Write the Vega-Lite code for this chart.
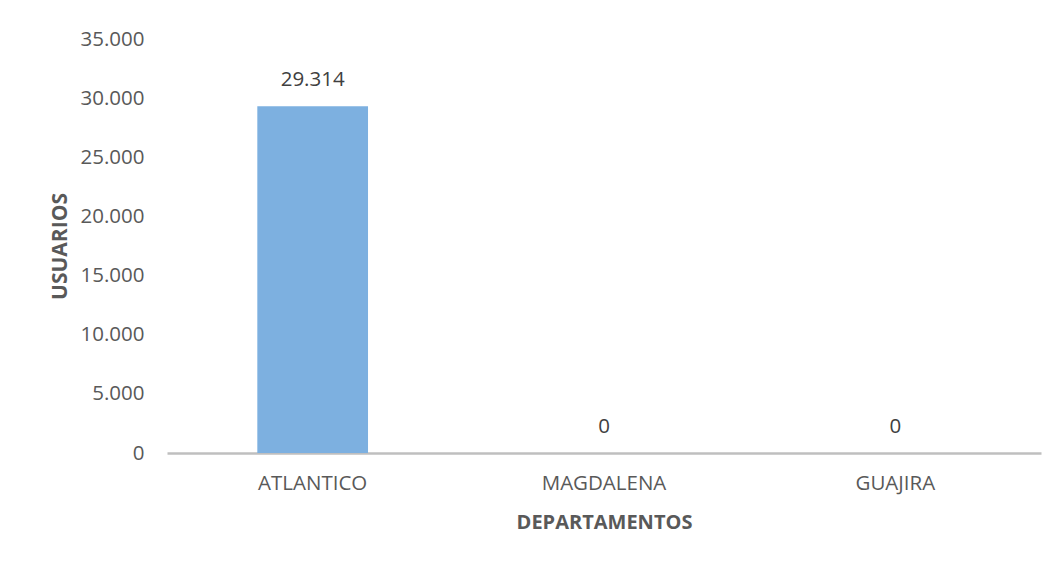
{
  "$schema": "https://vega.github.io/schema/vega-lite/v6.json",
  "width": 874,
  "height": 414,
  "autosize": {"type": "none"},
  "padding": {"left": 167, "top": 39, "right": 17, "bottom": 108},
  "background": "white",
  "config": {
    "view": {"stroke": null},
    "font": "Open Sans",
    "locale": {"number": {"decimal": ",", "thousands": ".", "grouping": [3], "currency": ["$", ""]}}
  },
  "data": {
    "values": [
      {"departamento": "ATLANTICO", "usuarios": 29314},
      {"departamento": "MAGDALENA", "usuarios": 0},
      {"departamento": "GUAJIRA", "usuarios": 0}
    ]
  },
  "encoding": {
    "x": {
      "field": "departamento",
      "type": "nominal",
      "sort": null,
      "scale": {"paddingInner": 0.62, "paddingOuter": 0.31},
      "axis": {
        "title": "DEPARTAMENTOS",
        "titleFont": "Open Sans",
        "titleFontSize": 20,
        "titleFontWeight": "bold",
        "titleColor": "#595959",
        "titlePadding": 19,
        "labelFont": "Open Sans",
        "labelFontSize": 20.5,
        "labelColor": "#595959",
        "labelAngle": 0,
        "labelPadding": 20,
        "ticks": false,
        "domainColor": "#BFBFBF",
        "domainWidth": 2.5,
        "grid": false
      }
    },
    "y": {
      "field": "usuarios",
      "type": "quantitative",
      "scale": {"domain": [0, 35000], "nice": false},
      "axis": {
        "title": "USUARIOS",
        "titleFont": "Open Sans",
        "titleFontSize": 21,
        "titleFontWeight": "bold",
        "titleColor": "#595959",
        "titlePadding": 10,
        "values": [0, 5000, 10000, 15000, 20000, 25000, 30000, 35000],
        "format": ",d",
        "labelFont": "Open Sans",
        "labelFontSize": 20.5,
        "labelColor": "#595959",
        "labelPadding": 23,
        "ticks": false,
        "domain": false,
        "grid": false
      }
    }
  },
  "layer": [
    {
      "mark": {"type": "bar", "color": "#7DB0E0"}
    },
    {
      "mark": {"type": "text", "baseline": "alphabetic", "dy": -20, "fontSize": 20.5, "color": "#404040", "font": "Open Sans"},
      "encoding": {
        "text": {"field": "usuarios", "type": "quantitative", "format": ",d"}
      }
    }
  ]
}
